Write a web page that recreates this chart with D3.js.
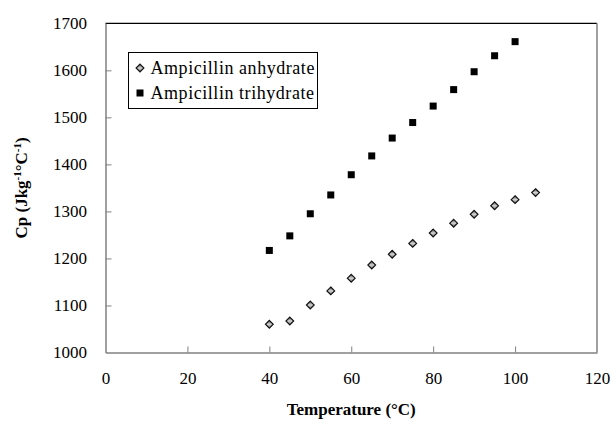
<!DOCTYPE html>
<html>
<head>
<meta charset="utf-8">
<script src="https://cdn.jsdelivr.net/npm/d3@7"></script>
<style>
  html, body { margin: 0; padding: 0; background: #fff; }
  svg { display: block; }
  svg text { font-family: "Liberation Serif", "Times New Roman", serif; }
</style>
</head>
<body>
<svg id="chart" width="616" height="425"></svg>
<script>
// Specific heat capacity of ampicillin forms vs temperature
const anhydrateTemp = [40, 45, 50, 55, 60, 65, 70, 75, 80, 85, 90, 95, 100, 105];
const anhydrateCp   = [1060, 1067, 1101, 1131, 1158, 1186, 1209, 1232, 1254, 1275, 1294, 1312, 1325, 1340];
const trihydrateTemp = [40, 45, 50, 55, 60, 65, 70, 75, 80, 85, 90, 95, 100];
const trihydrateCp   = [1217, 1248, 1295, 1335, 1378, 1418, 1456, 1489, 1524, 1559, 1597, 1631, 1661];
const xTicks = [0, 20, 40, 60, 80, 100, 120];
const yTicks = [1000, 1100, 1200, 1300, 1400, 1500, 1600, 1700];
const seriesNames = ["Ampicillin anhydrate", "Ampicillin trihydrate"];

const serif = '"Liberation Serif", "Times New Roman", serif';
const svg = d3.select("#chart");
const plotLeft = 105.5, plotRight = 597, plotTop = 23.3, plotBottom = 352.5;

const x = d3.scaleLinear().domain([0, 120]).range([plotLeft, plotRight]);
const y = d3.scaleLinear().domain([1000, 1700]).range([plotBottom, plotTop]);

// gradient used for the diamond markers
const defs = svg.append("defs");
const grad = defs.append("linearGradient").attr("id", "diamondFill")
  .attr("x1", 0).attr("y1", 0).attr("x2", 0).attr("y2", 1);
grad.append("stop").attr("offset", "0%").attr("stop-color", "#505050");
grad.append("stop").attr("offset", "50%").attr("stop-color", "#d4d4d4");
grad.append("stop").attr("offset", "100%").attr("stop-color", "#6a6a6a");

// plot frame: top in black, right in gray
svg.append("line").attr("x1", plotLeft).attr("x2", plotRight).attr("y1", plotTop).attr("y2", plotTop)
  .attr("stroke", "#000").attr("stroke-width", 1.2);
svg.append("line").attr("x1", plotRight).attr("x2", plotRight).attr("y1", plotTop).attr("y2", plotBottom)
  .attr("stroke", "#808080").attr("stroke-width", 1.5);

const axisColor = "#808080";

const xAxis = d3.axisBottom(x).tickValues(xTicks).tickFormat(d3.format("d"))
  .tickSizeInner(-6).tickSizeOuter(0).tickPadding(19);
const gx = svg.append("g").attr("transform", `translate(0,${plotBottom})`).call(xAxis);

const yAxis = d3.axisLeft(y).tickValues(yTicks).tickFormat(d3.format("d"))
  .tickSizeInner(-6).tickSizeOuter(0).tickPadding(18.5);
const gy = svg.append("g").attr("transform", `translate(${plotLeft},0)`).call(yAxis);

[gx, gy].forEach(g => {
  g.attr("font-family", serif).attr("font-size", 17);
  g.select(".domain").attr("stroke", axisColor).attr("stroke-width", 1.5);
  g.selectAll(".tick line").attr("stroke", axisColor).attr("stroke-width", 1);
  g.selectAll(".tick text").attr("fill", "#000");
});
// end ticks coincide with the frame
gx.selectAll(".tick line").filter(d => d === 0 || d === 120).remove();
gy.selectAll(".tick line").filter(d => d === 1000 || d === 1700).remove();

// axis titles
svg.append("text")
  .attr("x", (plotLeft + plotRight) / 2).attr("y", 415)
  .attr("text-anchor", "middle")
  .style("font-weight", "bold").style("font-size", "17px")
  .text("Temperature (°C)");

const yt = svg.append("text")
  .attr("transform", `translate(27,${(plotTop + plotBottom) / 2}) rotate(-90)`)
  .attr("text-anchor", "middle")
  .style("font-weight", "bold").style("font-size", "17px");
yt.append("tspan").text("Cp (Jkg");
yt.append("tspan").attr("dy", -6).style("font-size", "11px").text("-1");
yt.append("tspan").attr("dy", 6).text("°C");
yt.append("tspan").attr("dy", -6).style("font-size", "11px").text("-1");
yt.append("tspan").attr("dy", 6).text(")");

// markers
const diamond = d3.symbol().type(d3.symbolDiamond2).size(38);

const anhydrate = anhydrateTemp.map((t, i) => ({ t, cp: anhydrateCp[i] }));
const trihydrate = trihydrateTemp.map((t, i) => ({ t, cp: trihydrateCp[i] }));

svg.append("g").selectAll("path").data(anhydrate).join("path")
  .attr("transform", d => `translate(${x(d.t)},${y(d.cp)})`)
  .attr("d", diamond)
  .attr("fill", "url(#diamondFill)").attr("stroke", "#111").attr("stroke-width", 1.2);

const sq = 7;
svg.append("g").selectAll("rect").data(trihydrate).join("rect")
  .attr("x", d => x(d.t) - sq / 2).attr("y", d => y(d.cp) - sq / 2)
  .attr("width", sq).attr("height", sq).attr("fill", "#000");

// legend
const lg = svg.append("g");
lg.append("rect").attr("x", 128.5).attr("y", 52.5).attr("width", 189).attr("height", 56)
  .attr("fill", "#fff").attr("stroke", "#000").attr("stroke-width", 1);
lg.append("path").attr("transform", "translate(140,68)").attr("d", diamond)
  .attr("fill", "url(#diamondFill)").attr("stroke", "#111").attr("stroke-width", 1.2);
lg.append("rect").attr("x", 140 - sq / 2).attr("y", 93 - sq / 2).attr("width", sq).attr("height", sq).attr("fill", "#000");
lg.selectAll("text.lbl").data(seriesNames).join("text").attr("class", "lbl")
  .attr("x", 150.5).attr("y", (d, i) => 74 + i * 25)
  .style("font-size", "18px").style("letter-spacing", "0.55px")
  .text(d => d);
</script>
</body>
</html>
